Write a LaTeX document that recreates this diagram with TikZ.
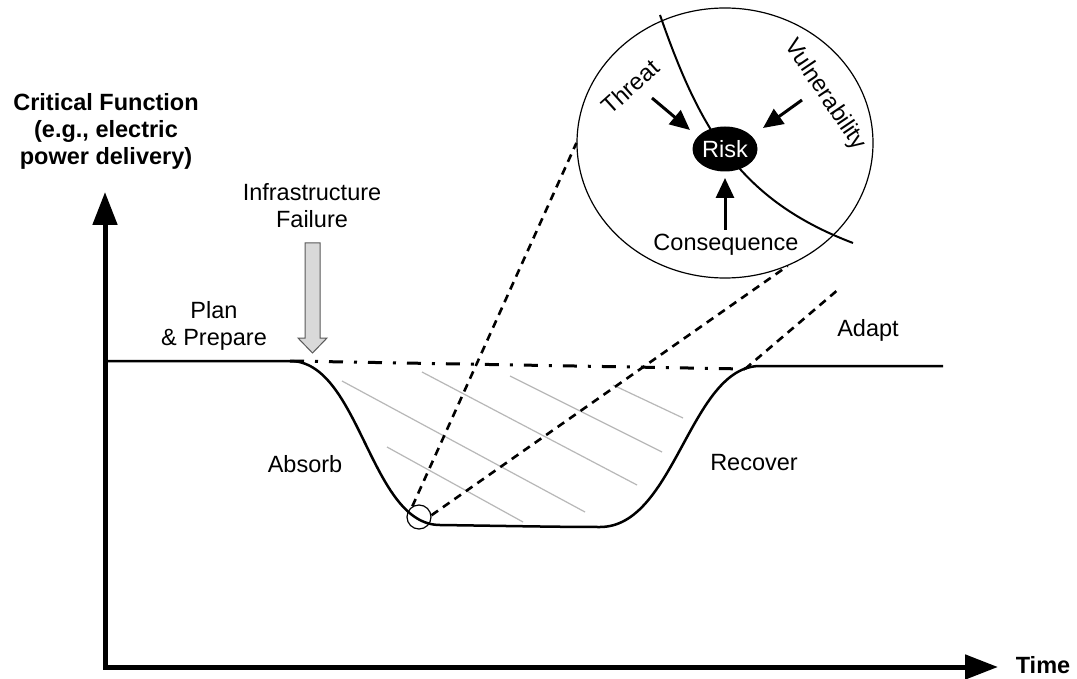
\documentclass[tikz,border=0pt]{standalone}
\usepackage{fontspec}
\setmainfont{Liberation Sans}
\usetikzlibrary{arrows.meta,shapes.geometric}
\begin{document}
\begin{tikzpicture}[x=1pt,y=-1pt,
  txt/.style={inner sep=0pt, align=center, font=\fontsize{23.5}{27}\selectfont},
  btxt/.style={inner sep=0pt, align=center, font=\fontsize{23.5}{27}\selectfont\bfseries},
  axis/.style={line width=5pt, line join=miter, {Triangle[length=33pt,width=24pt]}-{Triangle[length=33pt,width=24pt]}},
  curve/.style={line width=2.5pt, line join=round},
  dashdot/.style={line width=3pt, dash pattern=on 14pt off 11pt on 3pt off 11pt},
  zoomline/.style={line width=2.6pt, dash pattern=on 8pt off 6pt},
  hatch/.style={line width=1.2pt, draw=black!28},
  inarrow/.style={line width=3pt, -{Triangle[length=20pt,width=18pt]}},
  lensstyle/.style={ellipse, draw, line width=1.2pt, minimum width=296pt, minimum height=270pt, inner sep=0pt},
  spot/.style={circle, draw, line width=1.2pt, minimum size=24pt, inner sep=0pt},
  riskstyle/.style={ellipse, fill=black, minimum width=65pt, minimum height=45pt, inner sep=0pt, text=white},
  failarrow/.style={fill=black!15, draw=black!65, line width=1pt, line join=miter}
]
\useasboundingbox (0,0) rectangle (1077,679);
\fill[white] (0,0) rectangle (1077,679);

% axes
\coordinate (O) at (105,667);
\coordinate (ytip) at (105,192);
\coordinate (xtip) at (998,667);
\draw[axis] (ytip) -- (O) -- (xtip);

% hatch lines
\draw[hatch] (342,381) -- (585,512);
\draw[hatch] (387,447) -- (523,522);
\draw[hatch] (422,372) -- (637,485);
\draw[hatch] (510,376) -- (662,452);
\draw[hatch] (613,385) -- (683,418);

% performance curve
\coordinate (fail) at (290,361);
\coordinate (back) at (745,369);
\draw[curve] (105,361) -- (fail) .. controls (360,361) and (370,525) .. (440,525)
  .. controls (510,526) and (560,527) .. (600,527)
  .. controls (675,527) and (690,366) .. (760,366) -- (943,366);
\draw[dashdot] (fail) -- (back);

% zoom spot and lens
\node[spot] (spot) at (419,517) {};
\node[lensstyle] (lens) at (725,143) {};
\coordinate (d3end) at (840,288);
\draw[zoomline] (spot.122) -- (lens.180);
\draw[zoomline] (spot.8) -- (lens.-63);
\draw[zoomline] (back) -- (d3end);

% curve inside lens
\draw[line width=2pt] (660,15) .. controls (700,130) and (740,200) .. (853,243);
\node[riskstyle, txt, text=white] (risk) at (725,149) {Risk};

\coordinate (thrA) at (652,98);
\coordinate (thrB) at (690,130);
\coordinate (vulA) at (802,100);
\coordinate (vulB) at (763,128);
\coordinate (conA) at (725,230);
\coordinate (conB) at (725,178);
\draw[inarrow] (thrA) -- (thrB);
\draw[inarrow] (vulA) -- (vulB);
\draw[inarrow] (conA) -- (conB);

\node[txt, rotate=42] (threat) at (630,87) {Threat};
\node[txt, rotate=-56] (vuln) at (825,95) {Vulnerability};
\node[txt] (conseq) at (726,245) {Consequence};

% infrastructure failure arrow
\draw[failarrow] (305,243) -- (320,243) -- (320,338) -- (327,338) -- (312.5,353) -- (298,338) -- (305,338) -- cycle;

% labels
\node[btxt] (crit) at (106,131) {Critical Function\\(e.g., electric\\power delivery)};
\node[txt] (infra) at (312,206) {Infrastructure\\Failure};
\node[txt] (plan) at (214,326) {Plan\\\& Prepare};
\node[txt] (absorb) at (305,464) {Absorb};
\node[txt] (recover) at (754,463) {Recover};
\node[txt] (adapt) at (868,330) {Adapt};
\node[btxt] (time) at (1043,665) {Time};
\end{tikzpicture}
\end{document}
